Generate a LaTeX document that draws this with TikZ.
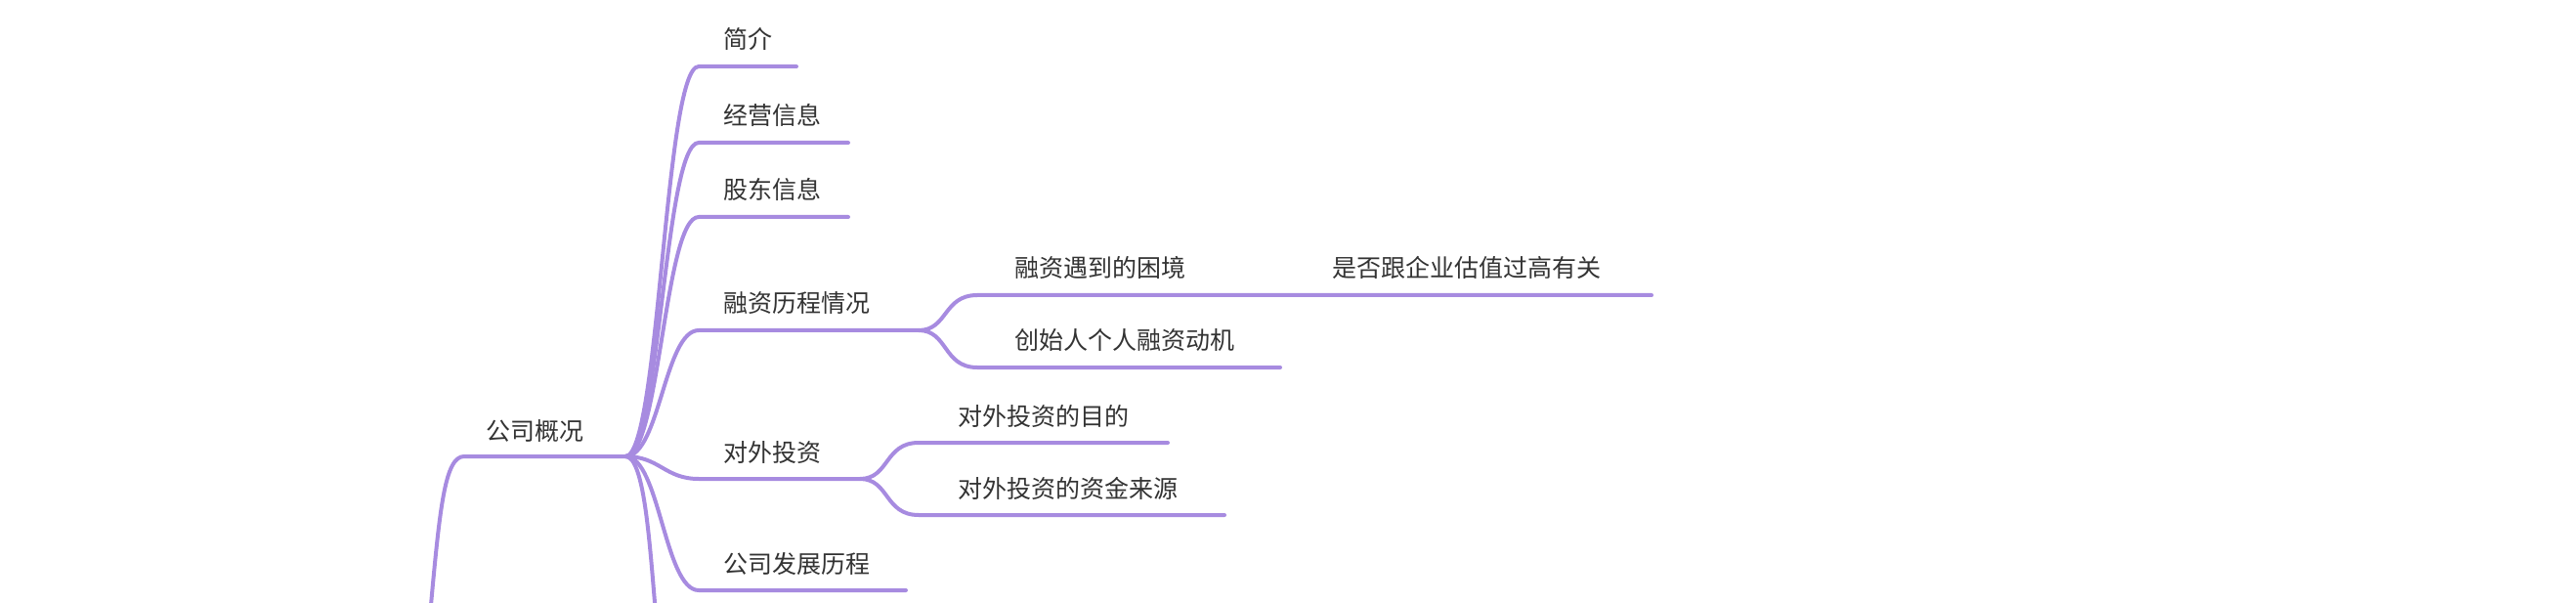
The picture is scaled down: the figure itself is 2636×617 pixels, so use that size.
\documentclass[tikz,border=0pt]{standalone}
\usepackage{fontspec}
\newfontfamily\cjk{Noto Sans CJK SC}
\definecolor{br}{HTML}{A78BE0}
\definecolor{tx}{HTML}{333333}
\begin{document}
\begin{tikzpicture}[x=1pt,y=-1pt,
  br/.style={draw=br,line width=4pt,line cap=round},
  lb/.style={font=\cjk\fontsize{25}{25}\selectfont,text=tx,anchor=base west,inner sep=0pt}]
\useasboundingbox (0,0) rectangle (2636,617);
% root
\coordinate (r0) at (440,630);
\coordinate (h) at (640,467);
\coordinate (r1) at (475,467);
\draw[br] (r0) .. controls (450,520) and (455,467) .. (r1) -- (h);
\node[lb] (t0) at (497,450) {公司概况};
% level 1
\foreach \n/\y/\e/\t in {a/68/815/简介, b/146/868/经营信息, c/222/868/股东信息, d/338/940/融资历程情况, e/490/880/对外投资, f/604/927/公司发展历程}{
  \coordinate (\n s) at (715,\y);
  \coordinate (\n e) at (\e,\y);
  \draw[br] (h) .. controls (675,467) and (680,\y) .. (\n s) -- (\n e);
  \node[lb] (\n t) at (740,\y-18) {\t};
}
\coordinate (g) at (672,640);
\draw[br] (h) .. controls (660,467) and (665,560) .. (g);
% level 2 under d
\coordinate (d1s) at (1000,302); \coordinate (d1e) at (1310,302);
\coordinate (d2s) at (1000,376); \coordinate (d2e) at (1310,376);
\coordinate (d3e) at (1690,302);
\draw[br] (de) .. controls (970,338) and (965,302) .. (d1s) -- (d1e) -- (d3e);
\draw[br] (de) .. controls (970,338) and (965,376) .. (d2s) -- (d2e);
\node[lb] (d1t) at (1038,284) {融资遇到的困境};
\node[lb] (d3t) at (1363,284) {是否跟企业估值过高有关};
\node[lb] (d2t) at (1038,358) {创始人个人融资动机};
% level 2 under e
\coordinate (e1s) at (940,453); \coordinate (e1e) at (1195,453);
\coordinate (e2s) at (940,527); \coordinate (e2e) at (1253,527);
\draw[br] (ee) .. controls (910,490) and (905,453) .. (e1s) -- (e1e);
\draw[br] (ee) .. controls (910,490) and (905,527) .. (e2s) -- (e2e);
\node[lb] (e1t) at (980,435) {对外投资的目的};
\node[lb] (e2t) at (980,509) {对外投资的资金来源};
\end{tikzpicture}
\end{document}
